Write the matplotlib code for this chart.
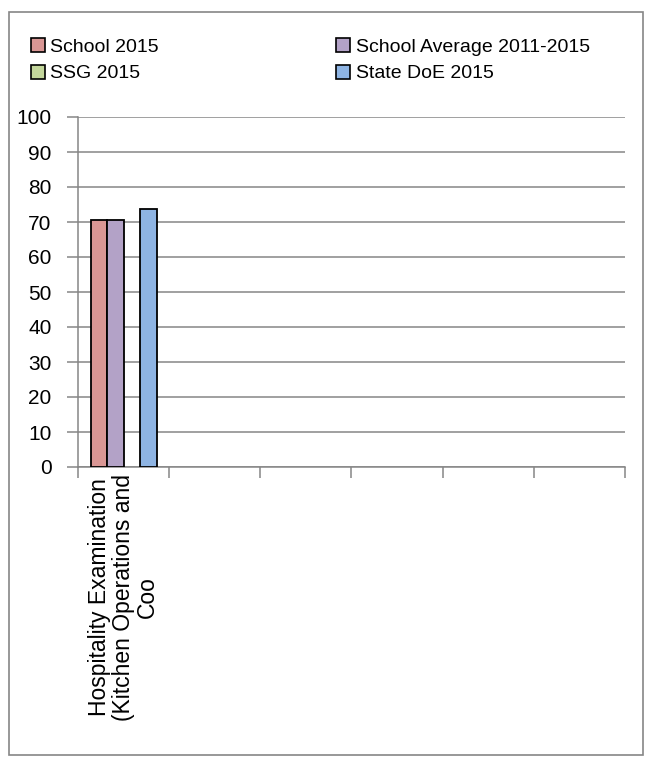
import numpy as np
import matplotlib
matplotlib.use("Agg")
import matplotlib.pyplot as plt
from matplotlib.patches import Rectangle

plt.rcParams['font.family'] = ['Liberation Sans', 'DejaVu Sans']

categories = ["Hospitality Examination\n(Kitchen Operations and\nCoo", "", "", "", "", ""]
series_names = ["School 2015", "School Average 2011-2015", "SSG 2015", "State DoE 2015"]
school_2015 = [70.6, np.nan, np.nan, np.nan, np.nan, np.nan]
school_avg = [70.6, np.nan, np.nan, np.nan, np.nan, np.nan]
ssg_2015 = [np.nan, np.nan, np.nan, np.nan, np.nan, np.nan]
state_doe = [73.6, np.nan, np.nan, np.nan, np.nan, np.nan]
colors = ["#D99694", "#B3A2C7", "#C3D69B", "#8EB4E3"]

fig = plt.figure(figsize=(6.51, 7.62), dpi=100)
ax = fig.add_axes([78 / 651, 1 - 467 / 762, (625 - 78) / 651, 350 / 762])

x = np.arange(len(categories))
w = 0.181
for i, (vals, name, c) in enumerate(zip([school_2015, school_avg, ssg_2015, state_doe],
                                         series_names, colors)):
    ax.bar(x + (i - 1.5) * w, vals, w, color=c, edgecolor="black",
           linewidth=1.3, label=name, zorder=3)

grid_c = "#868686"
ax.set_xlim(-0.5, len(categories) - 0.5)
ax.set_ylim(0, 100)
ax.set_yticks(range(0, 101, 10))
ax.yaxis.grid(True, color=grid_c, linewidth=1.1, zorder=0)
ax.tick_params(axis='y', length=8, width=1.1, color=grid_c, pad=11, labelsize=15)

# category labels at centres, tick marks at category boundaries
ax.set_xticks(x)
ax.set_xticklabels(categories, rotation=90, ha='center', va='top',
                   multialignment='center', fontsize=16.5, linespacing=1.05)
ax.tick_params(axis='x', which='major', length=0, pad=5)
ax.set_xticks(np.arange(-0.5, len(categories)), minor=True)
ax.tick_params(axis='x', which='minor', length=8, width=1.1, color=grid_c)

for s in ["top", "right"]:
    ax.spines[s].set_visible(False)
for s in ["left", "bottom"]:
    ax.spines[s].set_color(grid_c)
    ax.spines[s].set_linewidth(1.1)

# legend fills column-wise, so order entries to read row by row
order = [0, 2, 1, 3]
handles = [Rectangle((0, 0), 1, 1, facecolor=colors[k], edgecolor="black", linewidth=1.2)
           for k in order]
fig.legend(handles, [series_names[k] for k in order], ncol=2, loc='upper left',
           bbox_to_anchor=(0.035, 0.960), frameon=False, fontsize=14,
           handlelength=0.72, handleheight=0.72, handletextpad=0.3,
           columnspacing=9.1, labelspacing=0.45, borderaxespad=0)

# outer chart border
fig.patches.append(Rectangle((9 / 651, 1 - 755 / 762), 634 / 651, 743 / 762,
                             transform=fig.transFigure, fill=False,
                             edgecolor=grid_c, linewidth=1.2))

fig.savefig("out.png", dpi=100)
